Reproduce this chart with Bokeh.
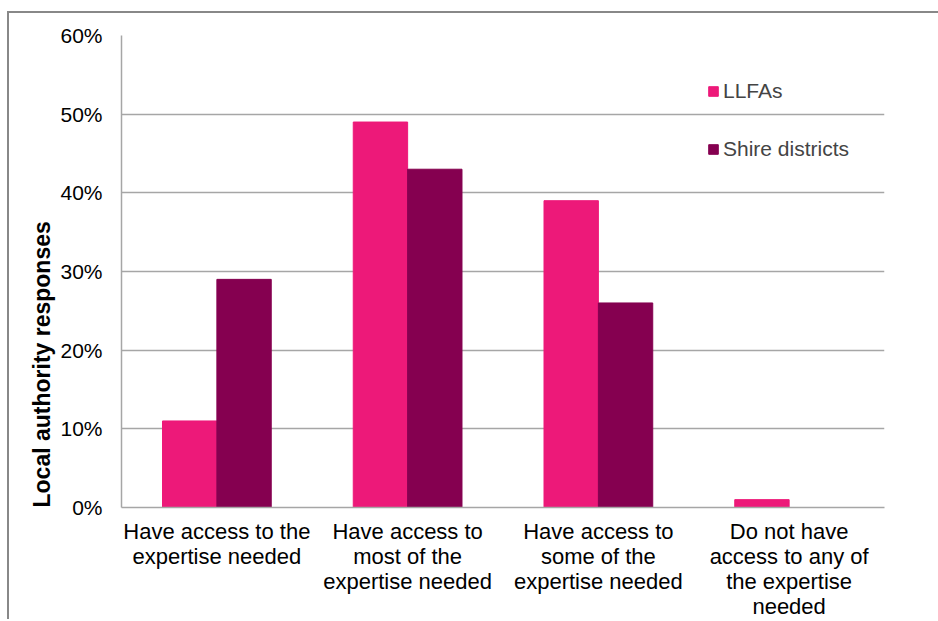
import math
from bokeh.plotting import figure
from bokeh.models import (FactorRange, NumeralTickFormatter, Legend, LegendItem,
                          Title, FixedTicker, ColumnDataSource)
from bokeh.transform import dodge
from bokeh.embed import file_html
from bokeh.resources import INLINE

categories = [
    "Have access to the\nexpertise needed",
    "Have access to\nmost of the\nexpertise needed",
    "Have access to\nsome of the\nexpertise needed",
    "Do not have\naccess to any of\nthe expertise\nneeded",
]
llfas = [0.11, 0.49, 0.39, 0.01]
shire = [0.29, 0.43, 0.26, 0.0]
series_names = ["LLFAs", "Shire districts"]
y_ticks = [0.0, 0.1, 0.2, 0.3, 0.4, 0.5, 0.6]
y_title = "Local authority responses"

PINK = "#ED1979"
PURPLE = "#850050"
FONT = "Liberation Sans"

src = ColumnDataSource(dict(cat=categories, llfas=llfas, shire=shire))

p = figure(width=931, height=608,
           x_range=FactorRange(*categories, range_padding=0),
           y_range=(0, 0.6),
           output_backend="svg", toolbar_location=None,
           min_border_left=112, min_border_right=56,
           min_border_top=22, min_border_bottom=114)
p.styles = {"margin-left": "7px", "margin-top": "11px",
            "border-left": "2px solid #888888", "border-top": "2px solid #888888"}
p.outline_line_color = None
p.background_fill_color = "white"
p.border_fill_color = "white"

r1 = p.vbar(x=dodge("cat", -0.1425, range=p.x_range), top="llfas", width=0.285,
            source=src, fill_color=PINK, line_color=PINK)
r2 = p.vbar(x=dodge("cat", 0.1425, range=p.x_range), top="shire", width=0.285,
            source=src, fill_color=PURPLE, line_color=PURPLE)

p.xgrid.grid_line_color = None
p.ygrid.grid_line_color = "#A6A6A6"
p.ygrid.grid_line_width = 1.5
p.yaxis.ticker = FixedTicker(ticks=y_ticks)
p.yaxis.formatter = NumeralTickFormatter(format="0%")
p.yaxis.minor_tick_line_color = None
p.yaxis.major_tick_line_color = None
p.yaxis.major_tick_out = 0
p.yaxis.major_tick_in = 0
p.yaxis.axis_line_color = "#A6A6A6"
p.yaxis.axis_line_width = 1.5
p.yaxis.major_label_standoff = 19
p.yaxis.major_label_text_font = FONT
p.yaxis.major_label_text_font_size = "21px"
p.yaxis.major_label_text_color = "black"

p.xaxis.major_tick_line_color = None
p.xaxis.minor_tick_line_color = None
p.xaxis.major_tick_out = 0
p.xaxis.major_tick_in = 0
p.xaxis.axis_line_color = "#A6A6A6"
p.xaxis.axis_line_width = 1.5
p.xaxis.major_label_standoff = 11
p.xaxis.major_label_text_font = FONT
p.xaxis.major_label_text_font_size = "22px"
p.xaxis.major_label_text_color = "black"
p.xaxis.major_label_text_line_height = 1.0
p.xaxis.major_label_orientation = "horizontal"

legend = Legend(items=[LegendItem(label=series_names[0], renderers=[r1]),
                       LegendItem(label=series_names[1], renderers=[r2])],
                location=(586, 346), orientation="vertical",
                glyph_width=12, glyph_height=12, label_height=20,
                spacing=34, padding=0, margin=0, label_standoff=4,
                label_text_font=FONT, label_text_font_size="21px",
                background_fill_alpha=0, border_line_color=None)
p.add_layout(legend)

ytitle = Title(text=y_title, align="left", offset=0, standoff=6,
               text_font=FONT, text_font_size="23px", text_font_style="bold",
               text_color="black")
p.add_layout(ytitle, "left")

open("out.html", "w").write(file_html(p, INLINE))
